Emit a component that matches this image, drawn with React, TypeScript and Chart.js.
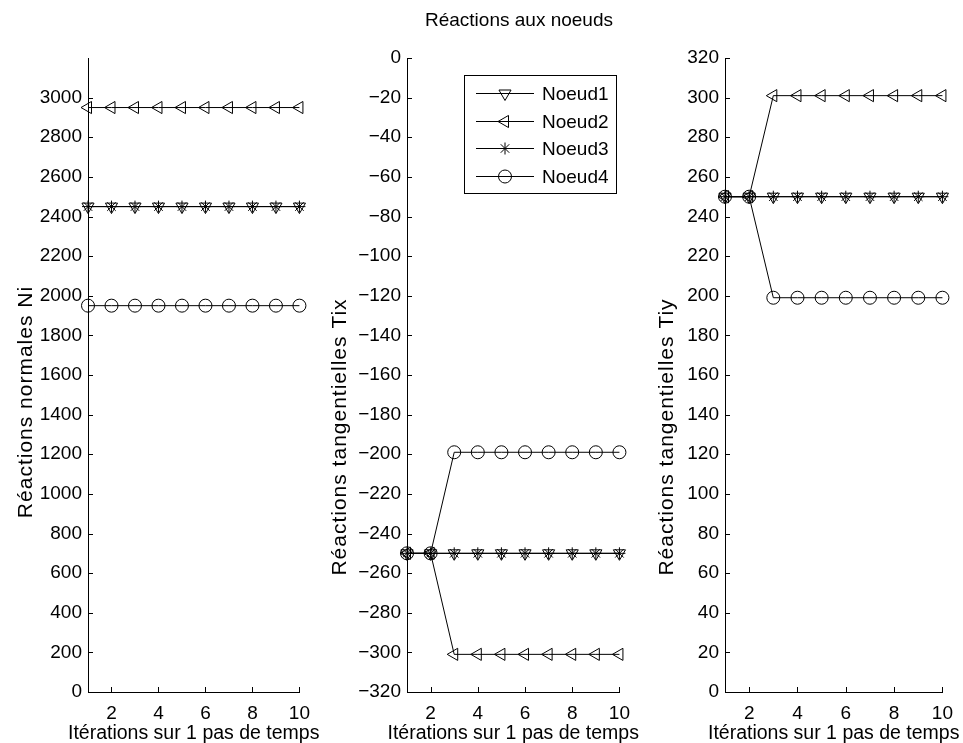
import React, { useEffect, useRef } from 'react';
import { Chart, registerables } from 'chart.js';
import { drawPoint } from 'chart.js/helpers';

Chart.register(...registerables);

// ---------- data ----------
const ITERATIONS = [1, 2, 3, 4, 5, 6, 7, 8, 9, 10];
const SERIES_NAMES = ['Noeud1', 'Noeud2', 'Noeud3', 'Noeud4'];

const NI_NOEUD1 = [2450, 2450, 2450, 2450, 2450, 2450, 2450, 2450, 2450, 2450];
const NI_NOEUD2 = [2950, 2950, 2950, 2950, 2950, 2950, 2950, 2950, 2950, 2950];
const NI_NOEUD3 = [2450, 2450, 2450, 2450, 2450, 2450, 2450, 2450, 2450, 2450];
const NI_NOEUD4 = [1950, 1950, 1950, 1950, 1950, 1950, 1950, 1950, 1950, 1950];

const TIX_NOEUD1 = [-250, -250, -250, -250, -250, -250, -250, -250, -250, -250];
const TIX_NOEUD2 = [-250, -250, -301, -301, -301, -301, -301, -301, -301, -301];
const TIX_NOEUD3 = [-250, -250, -250, -250, -250, -250, -250, -250, -250, -250];
const TIX_NOEUD4 = [-250, -250, -199, -199, -199, -199, -199, -199, -199, -199];

const TIY_NOEUD1 = [250, 250, 250, 250, 250, 250, 250, 250, 250, 250];
const TIY_NOEUD2 = [250, 250, 301, 301, 301, 301, 301, 301, 301, 301];
const TIY_NOEUD3 = [250, 250, 250, 250, 250, 250, 250, 250, 250, 250];
const TIY_NOEUD4 = [250, 250, 199, 199, 199, 199, 199, 199, 199, 199];

const X_TICKS = [2, 4, 6, 8, 10];
const NI_TICKS = [0, 200, 400, 600, 800, 1000, 1200, 1400, 1600, 1800, 2000, 2200, 2400, 2600, 2800, 3000];
const TIX_TICKS = [-320, -300, -280, -260, -240, -220, -200, -180, -160, -140, -120, -100, -80, -60, -40, -20, 0];
const TIY_TICKS = [0, 20, 40, 60, 80, 100, 120, 140, 160, 180, 200, 220, 240, 260, 280, 300, 320];

const TITLE = 'Réactions aux noeuds';
const X_TITLE = 'Itérations sur 1 pas de temps';
const Y_TITLES = ['Réactions normales Ni', 'Réactions tangentielles Tix', 'Réactions tangentielles Tiy'];

// ---------- styling ----------
const FONT = "'Liberation Sans', Arial, Helvetica, sans-serif";
const FONT_SIZE = 19;

const MARKERS = [
  { pointStyle: 'triangle', rotation: 180, radius: 7 },
  { pointStyle: 'triangle', rotation: 270, radius: 7 },
  { pointStyle: 'star', rotation: 0, radius: 6 },
  { pointStyle: 'circle', rotation: 0, radius: 6.5 },
];

const fmt = (v: number) => String(v).replace('-', '\u2212');

const innerTicks = {
  id: 'innerTicks',
  afterDraw(chart: any) {
    const { ctx, chartArea, scales } = chart;
    ctx.save();
    ctx.strokeStyle = '#000';
    ctx.lineWidth = 1;
    ctx.beginPath();
    for (const t of scales.y.ticks) {
      const py = Math.round(scales.y.getPixelForValue(t.value)) + 0.5;
      ctx.moveTo(chartArea.left, py);
      ctx.lineTo(chartArea.left + 5, py);
    }
    for (const t of scales.x.ticks) {
      const px = Math.round(scales.x.getPixelForValue(t.value)) + 0.5;
      ctx.moveTo(px, chartArea.bottom);
      ctx.lineTo(px, chartArea.bottom - 5);
    }
    ctx.stroke();
    ctx.restore();
  },
};

const axisTitles = {
  id: 'axisTitles',
  afterDraw(chart: any, _args: any, opts: any) {
    const { ctx, chartArea } = chart;
    ctx.save();
    ctx.fillStyle = '#000';
    ctx.textAlign = 'center';
    ctx.textBaseline = 'middle';
    ctx.font = `${opts.xSize}px ${FONT}`;
    ctx.fillText(opts.xText, (chartArea.left + chartArea.right) / 2, chartArea.bottom + opts.xOffset);
    ctx.translate(chartArea.left - opts.yOffset, (chartArea.top + chartArea.bottom) / 2 + opts.yShift);
    ctx.rotate(-Math.PI / 2);
    ctx.font = `${opts.ySize}px ${FONT}`;
    try { (ctx as any).letterSpacing = opts.ySpacing; } catch (e) { /* ignore */ }
    ctx.fillText(opts.yText, 0, 0);
    ctx.restore();
  },
};

const legendBox = {
  id: 'legendBox',
  afterDraw(chart: any, _args: any, opts: any) {
    if (!opts || !opts.show) return;
    const { ctx, chartArea } = chart;
    const left = chartArea.left + opts.dx;
    const top = chartArea.top + opts.dy;
    const w = opts.width;
    const h = opts.height;
    ctx.save();
    ctx.fillStyle = '#fff';
    ctx.fillRect(left, top, w, h);
    ctx.strokeStyle = '#000';
    ctx.lineWidth = 1;
    ctx.strokeRect(Math.round(left) + 0.5, Math.round(top) + 0.5, w, h);
    ctx.font = `${FONT_SIZE}px ${FONT}`;
    ctx.textBaseline = 'middle';
    ctx.textAlign = 'left';
    chart.data.datasets.forEach((ds: any, i: number) => {
      const cy = Math.round(top + 18 + i * 27.7) + 0.5;
      ctx.beginPath();
      ctx.strokeStyle = '#000';
      ctx.moveTo(left + 12, cy);
      ctx.lineTo(left + 70, cy);
      ctx.stroke();
      ctx.fillStyle = 'rgba(0,0,0,0)';
      ctx.strokeStyle = '#000';
      drawPoint(ctx, { pointStyle: ds.pointStyle, rotation: ds.rotation, radius: ds.pointRadius, borderWidth: 1 }, left + 41, cy);
      ctx.fillStyle = '#000';
      ctx.fillText(ds.label, left + 78, cy + 1);
    });
    ctx.restore();
  },
};

type PanelProps = {
  left: number;
  width: number;
  yWidth: number;
  rightPad: number;
  yMin: number;
  yMax: number;
  yTicks: number[];
  yTitle: string;
  yTitleOffset: number;
  yTitleShift: number;
  series: number[][];
  legend?: boolean;
};

function Panel(p: PanelProps) {
  const ref = useRef<HTMLCanvasElement | null>(null);
  useEffect(() => {
    if (!ref.current) return;
    const datasets = p.series.map((vals, i) => ({
      label: SERIES_NAMES[i],
      data: ITERATIONS.map((x, j) => ({ x, y: vals[j] })),
      borderColor: '#000',
      borderWidth: 1,
      backgroundColor: 'rgba(0,0,0,0)',
      pointStyle: MARKERS[i].pointStyle,
      rotation: MARKERS[i].rotation,
      pointRadius: MARKERS[i].radius,
      pointBorderColor: '#000',
      pointBackgroundColor: 'rgba(0,0,0,0)',
      pointBorderWidth: 1,
      tension: 0,
      clip: false,
    }));
    const chart = new Chart(ref.current, {
      type: 'line',
      data: { datasets },
      options: {
        animation: false,
        responsive: false,
        events: [],
        layout: { padding: { top: 58, right: p.rightPad, left: 0, bottom: 0 } },
        plugins: {
          legend: { display: false },
          tooltip: { enabled: false },
          title: { display: false },
          legendBox: { show: !!p.legend, dx: 57, dy: 17, width: 152, height: 118 },
          axisTitles: {
            xText: X_TITLE,
            xSize: 19.5,
            xOffset: 42,
            yText: p.yTitle,
            ySize: 21,
            ySpacing: '1px',
            yOffset: p.yTitleOffset,
            yShift: p.yTitleShift,
          },
        } as any,
        scales: {
          x: {
            type: 'linear',
            min: 1,
            max: 10,
            afterBuildTicks: (s: any) => { s.ticks = X_TICKS.map((v) => ({ value: v })); },
            afterFit: (s: any) => { s.height = 51; },
            grid: { display: true, drawOnChartArea: false, drawTicks: false },
            border: { display: true, color: '#000', width: 1 },
            ticks: { color: '#000', padding: 10, font: { family: FONT, size: FONT_SIZE }, maxRotation: 0, callback: (v: any) => fmt(v) },
            title: { display: false },
          },
          y: {
            type: 'linear',
            min: p.yMin,
            max: p.yMax,
            afterBuildTicks: (s: any) => { s.ticks = p.yTicks.map((v) => ({ value: v })); },
            afterFit: (s: any) => { s.width = p.yWidth; },
            grid: { display: true, drawOnChartArea: false, drawTicks: false },
            border: { display: true, color: '#000', width: 1 },
            ticks: { color: '#000', padding: 6, font: { family: FONT, size: FONT_SIZE }, callback: (v: any) => fmt(v) },
            title: { display: false },
          },
        },
      },
      plugins: [innerTicks, axisTitles, legendBox],
    } as any);
    return () => chart.destroy();
  }, []);
  return (
    <canvas
      ref={ref}
      width={p.width}
      height={743}
      style={{ position: 'absolute', left: p.left, top: 0, width: p.width, height: 743 }}
    />
  );
}

export default function App() {
  return (
    <div style={{ position: 'absolute', left: 0, top: 0, width: 963, height: 743, background: '#fff', overflow: 'hidden' }}>
      <Panel
        left={0}
        width={320}
        yWidth={88}
        rightPad={8}
        yMin={0}
        yMax={3200}
        yTicks={NI_TICKS}
        yTitle={Y_TITLES[0]}
        yTitleOffset={62}
        yTitleShift={27}
        series={[NI_NOEUD1, NI_NOEUD2, NI_NOEUD3, NI_NOEUD4]}
      />
      <Panel
        left={320}
        width={320}
        yWidth={87}
        rightPad={10}
        yMin={-320}
        yMax={0}
        yTicks={TIX_TICKS}
        yTitle={Y_TITLES[1]}
        yTitleOffset={67}
        yTitleShift={62}
        series={[TIX_NOEUD1, TIX_NOEUD2, TIX_NOEUD3, TIX_NOEUD4]}
        legend
      />
      <Panel
        left={640}
        width={323}
        yWidth={85}
        rightPad={15}
        yMin={0}
        yMax={320}
        yTicks={TIY_TICKS}
        yTitle={Y_TITLES[2]}
        yTitleOffset={58}
        yTitleShift={62}
        series={[TIY_NOEUD1, TIY_NOEUD2, TIY_NOEUD3, TIY_NOEUD4]}
      />
      <div
        style={{
          position: 'absolute',
          left: 319,
          top: 8,
          width: 400,
          height: 24,
          lineHeight: '24px',
          textAlign: 'center',
          fontFamily: FONT,
          fontSize: FONT_SIZE,
          color: '#000',
          whiteSpace: 'nowrap',
        }}
      >
        {TITLE}
      </div>
    </div>
  );
}
